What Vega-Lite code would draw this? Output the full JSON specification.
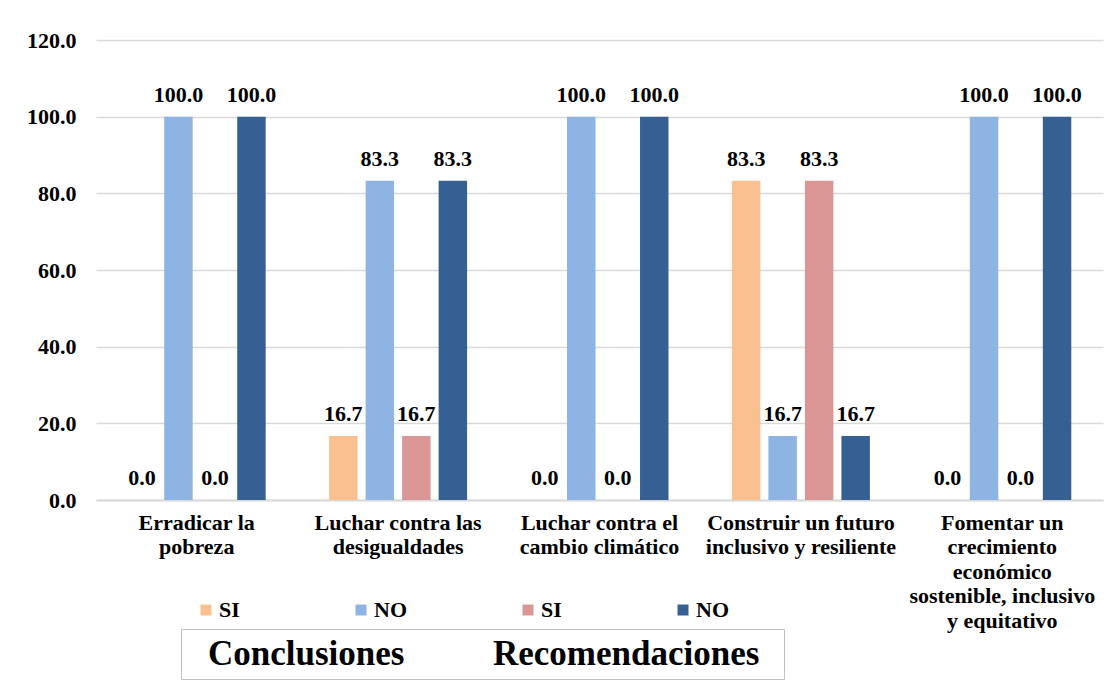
{
  "$schema": "https://vega.github.io/schema/vega-lite/v6.json",
  "autosize": {"type": "none"},
  "width": 1007,
  "height": 460,
  "padding": {"left": 96, "top": 40, "right": 16, "bottom": 188},
  "background": "white",
  "config": {
    "font": "Liberation Serif",
    "view": {"stroke": null},
    "axis": {"labelFont": "Liberation Serif", "labelFontWeight": "bold", "labelColor": "black"},
    "legend": {"labelFont": "Liberation Serif", "labelFontWeight": "bold", "labelColor": "black", "labelLimit": 0}
  },
  "data": {
    "values": [
      {"cat": "Erradicar la|pobreza", "serie": "SI_c", "grupo": "Conclusiones", "valor": 0},
      {"cat": "Erradicar la|pobreza", "serie": "NO_c", "grupo": "Conclusiones", "valor": 100},
      {"cat": "Erradicar la|pobreza", "serie": "SI_r", "grupo": "Recomendaciones", "valor": 0},
      {"cat": "Erradicar la|pobreza", "serie": "NO_r", "grupo": "Recomendaciones", "valor": 100},
      {"cat": "Luchar contra las|desigualdades", "serie": "SI_c", "grupo": "Conclusiones", "valor": 16.7},
      {"cat": "Luchar contra las|desigualdades", "serie": "NO_c", "grupo": "Conclusiones", "valor": 83.3},
      {"cat": "Luchar contra las|desigualdades", "serie": "SI_r", "grupo": "Recomendaciones", "valor": 16.7},
      {"cat": "Luchar contra las|desigualdades", "serie": "NO_r", "grupo": "Recomendaciones", "valor": 83.3},
      {"cat": "Luchar contra el|cambio climático", "serie": "SI_c", "grupo": "Conclusiones", "valor": 0},
      {"cat": "Luchar contra el|cambio climático", "serie": "NO_c", "grupo": "Conclusiones", "valor": 100},
      {"cat": "Luchar contra el|cambio climático", "serie": "SI_r", "grupo": "Recomendaciones", "valor": 0},
      {"cat": "Luchar contra el|cambio climático", "serie": "NO_r", "grupo": "Recomendaciones", "valor": 100},
      {"cat": "Construir un futuro|inclusivo y resiliente", "serie": "SI_c", "grupo": "Conclusiones", "valor": 83.3},
      {"cat": "Construir un futuro|inclusivo y resiliente", "serie": "NO_c", "grupo": "Conclusiones", "valor": 16.7},
      {"cat": "Construir un futuro|inclusivo y resiliente", "serie": "SI_r", "grupo": "Recomendaciones", "valor": 83.3},
      {"cat": "Construir un futuro|inclusivo y resiliente", "serie": "NO_r", "grupo": "Recomendaciones", "valor": 16.7},
      {"cat": "Fomentar un|crecimiento|económico|sostenible, inclusivo|y equitativo", "serie": "SI_c", "grupo": "Conclusiones", "valor": 0},
      {"cat": "Fomentar un|crecimiento|económico|sostenible, inclusivo|y equitativo", "serie": "NO_c", "grupo": "Conclusiones", "valor": 100},
      {"cat": "Fomentar un|crecimiento|económico|sostenible, inclusivo|y equitativo", "serie": "SI_r", "grupo": "Recomendaciones", "valor": 0},
      {"cat": "Fomentar un|crecimiento|económico|sostenible, inclusivo|y equitativo", "serie": "NO_r", "grupo": "Recomendaciones", "valor": 100}
    ]
  },
  "encoding": {
    "x": {
      "field": "cat", "type": "nominal", "sort": null,
      "scale": {"paddingInner": 0.275, "paddingOuter": 0.1375},
      "axis": {
        "title": null, "labelAngle": 0, "ticks": false, "grid": false,
        "domain": true, "domainColor": "#d9d9d9", "domainWidth": 2,
        "labelExpr": "split(datum.value, '|')",
        "labelFontSize": 22, "labelLineHeight": 24.5, "labelPadding": 12,
        "labelLimit": 0, "labelBaseline": "top"
      }
    },
    "xOffset": {
      "field": "serie", "type": "nominal",
      "sort": ["SI_c", "NO_c", "SI_r", "NO_r"],
      "scale": {"paddingInner": 0.22, "paddingOuter": 0.11}
    },
    "y": {
      "field": "valor", "type": "quantitative",
      "scale": {"domain": [0, 120], "nice": false},
      "axis": {
        "title": null, "values": [0, 20, 40, 60, 80, 100, 120], "format": ".1f",
        "ticks": false, "domain": false, "grid": true,
        "gridColor": "#d9d9d9", "gridWidth": 1.5,
        "labelFontSize": 22, "labelPadding": 20
      }
    }
  },
  "layer": [
    {
      "mark": {"type": "bar"},
      "encoding": {
        "color": {
          "field": "serie", "type": "nominal",
          "scale": {"domain": ["SI_c", "NO_c", "SI_r", "NO_r"], "range": ["#FAC090", "#8EB4E3", "#D99694", "#376092"]},
          "legend": {
            "title": null, "orient": "none", "legendX": 99, "legendY": 559,
            "direction": "horizontal", "columns": 4, "padding": 0,
            "symbolType": "square", "symbolSize": 121, "symbolStrokeWidth": 0,
            "labelOffset": 2, "columnPadding": 110, "labelFontSize": 22,
            "labelExpr": "slice(datum.label, 0, 2)"
          }
        },
        "strokeDash": {
          "field": "grupo", "type": "nominal",
          "scale": {"domain": ["Conclusiones", "Recomendaciones"], "range": [[1, 0], [1, 0]]},
          "legend": {
            "title": "x", "titleOrient": "right", "titleFontSize": 8, "titleColor": "white", "titlePadding": 14,
            "orient": "none", "legendX": 85, "legendY": 589,
            "direction": "horizontal", "columns": 2, "padding": 7,
            "strokeColor": "#c0c0c0",
            "symbolSize": 0, "symbolOpacity": 0, "symbolStrokeWidth": 0,
            "labelOffset": -15, "columnPadding": 68, "labelFontSize": 35
          }
        }
      }
    },
    {
      "mark": {"type": "text", "dy": -15, "baseline": "alphabetic", "fontSize": 22, "fontWeight": "bold", "font": "Liberation Serif", "color": "black"},
      "encoding": {
        "text": {"field": "valor", "type": "quantitative", "format": ".1f"}
      }
    }
  ]
}
